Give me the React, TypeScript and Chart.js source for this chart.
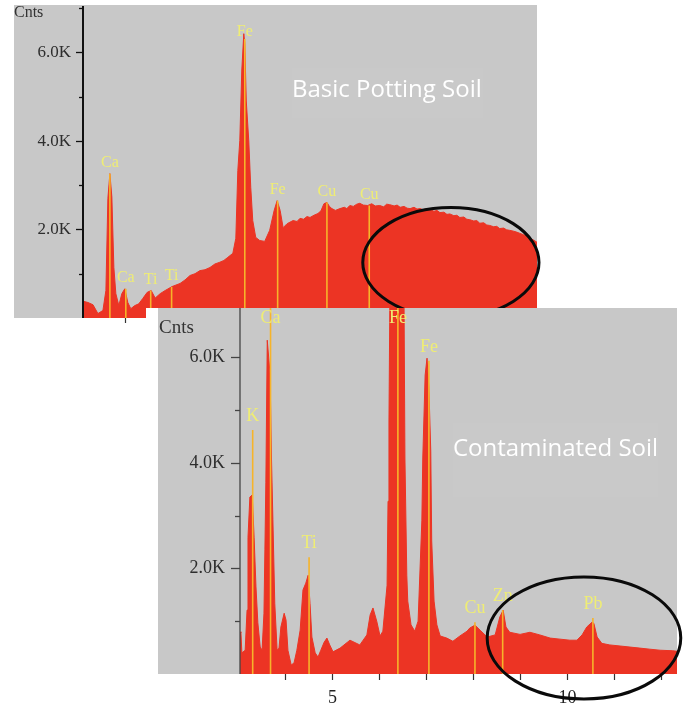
import React, { useEffect, useRef } from 'react';
import { Chart, registerables } from 'chart.js';

Chart.register(...registerables);

// ---------- Basic Potting Soil spectrum (keV, counts) ----------
const topEnergy = [3.15, 3.25, 3.35, 3.45, 3.55, 3.61, 3.65, 3.69, 3.73, 3.77, 3.81, 3.87, 3.93, 3.99, 4.05, 4.11, 4.19, 4.27, 4.35, 4.44, 4.52, 4.60, 4.70, 4.80, 4.94, 5.10, 5.20, 5.30, 5.40, 5.50, 5.60, 5.70, 5.80, 5.90, 5.98, 6.06, 6.16, 6.22, 6.26, 6.30, 6.34, 6.38, 6.40, 6.43, 6.48, 6.52, 6.56, 6.62, 6.70, 6.80, 6.90, 6.99, 7.05, 7.11, 7.17, 7.25, 7.37, 7.45, 7.51, 7.58, 7.65, 7.71, 7.79, 7.87, 7.93, 7.99, 8.05, 8.10, 8.15, 8.22, 8.31, 8.40, 8.45, 8.51, 8.58, 8.65, 8.71, 8.78, 8.87, 8.95, 9.02, 9.11, 9.19, 9.25, 9.31, 9.40, 9.46, 9.52, 9.60, 9.66, 9.72, 9.80, 9.86, 9.92, 10.00, 10.06, 10.12, 10.20, 10.26, 10.32, 10.40, 10.46, 10.52, 10.60, 10.66, 10.72, 10.80, 10.86, 10.92, 11.00, 11.06, 11.12, 11.20, 11.26, 11.32, 11.40, 11.46, 11.52, 11.60, 11.66, 11.72, 11.80, 11.86, 11.93, 12.00, 12.06, 12.13, 12.20, 12.27];
const topCounts = [380, 350, 300, 100, 170, 620, 2700, 3260, 2730, 1140, 550, 280, 550, 660, 350, 210, 280, 320, 440, 580, 620, 450, 550, 620, 710, 780, 860, 960, 1000, 1070, 1090, 1140, 1220, 1260, 1300, 1370, 1460, 1800, 3330, 4010, 5600, 6420, 6200, 4900, 4000, 2950, 2200, 1820, 1750, 1730, 1980, 2430, 2650, 2430, 2040, 2130, 2200, 2180, 2250, 2230, 2290, 2270, 2320, 2360, 2420, 2580, 2610, 2520, 2470, 2430, 2470, 2500, 2470, 2540, 2520, 2570, 2590, 2550, 2540, 2580, 2530, 2540, 2510, 2570, 2560, 2530, 2550, 2500, 2520, 2480, 2470, 2500, 2460, 2470, 2440, 2470, 2450, 2410, 2430, 2380, 2390, 2340, 2350, 2310, 2320, 2270, 2280, 2230, 2220, 2190, 2200, 2140, 2150, 2100, 2090, 2060, 2070, 2020, 2030, 1990, 1980, 1960, 1940, 1910, 1880, 1850, 1800, 1760, 1710];
const topLineEnergy = [3.69, 4.01, 4.51, 4.93, 6.40, 7.06, 8.05, 8.90];
const topLineHeight = [3260, 660, 620, 700, 6300, 2650, 2610, 2540];
const topLineLabel = ['Ca', 'Ca', 'Ti', 'Ti', 'Fe', 'Fe', 'Cu', 'Cu'];
const topYTicks = [1000, 2000, 3000, 4000, 5000, 6000, 7000];
const topXTicks = [4, 5, 6, 7, 8, 9, 10, 11, 12];

// ---------- Contaminated Soil spectrum (keV, counts) ----------
const bottomEnergy = [3.04, 3.06, 3.08, 3.15, 3.19, 3.21, 3.25, 3.30, 3.34, 3.38, 3.42, 3.47, 3.51, 3.55, 3.57, 3.59, 3.62, 3.68, 3.71, 3.74, 3.78, 3.83, 3.87, 3.91, 3.98, 4.02, 4.06, 4.13, 4.19, 4.25, 4.32, 4.38, 4.44, 4.49, 4.53, 4.57, 4.64, 4.70, 4.76, 4.83, 4.89, 4.95, 5.02, 5.17, 5.38, 5.59, 5.74, 5.81, 5.87, 5.95, 6.02, 6.08, 6.17, 6.19, 6.21, 6.23, 6.30, 6.40, 6.49, 6.53, 6.55, 6.59, 6.61, 6.68, 6.76, 6.83, 6.91, 6.93, 6.98, 7.02, 7.06, 7.10, 7.12, 7.17, 7.23, 7.30, 7.44, 7.57, 7.72, 7.87, 7.93, 8.04, 8.15, 8.30, 8.47, 8.57, 8.64, 8.70, 8.78, 9.00, 9.21, 9.42, 9.64, 9.85, 10.06, 10.21, 10.32, 10.42, 10.53, 10.57, 10.64, 10.74, 10.91, 11.13, 11.34, 11.55, 11.76, 11.98, 12.25, 12.34];
const bottomCounts = [800, 780, 400, 450, 1210, 2590, 3350, 3390, 2590, 1650, 970, 510, 450, 1150, 2350, 3620, 6320, 5680, 4090, 2920, 1340, 450, 490, 890, 1150, 1020, 450, 170, 210, 450, 830, 1590, 1720, 1870, 1340, 700, 400, 320, 450, 600, 680, 550, 420, 490, 640, 550, 740, 1120, 1250, 1000, 720, 810, 1680, 3270, 4790, 7200, 10000, 12000, 10000, 7200, 4090, 1870, 1380, 930, 810, 1000, 2900, 4090, 5660, 5980, 5410, 4220, 2520, 1380, 930, 720, 680, 620, 720, 810, 870, 925, 830, 700, 740, 1080, 1210, 890, 790, 750, 790, 740, 680, 660, 640, 640, 740, 890, 980, 960, 700, 580, 550, 530, 510, 490, 470, 450, 440, 430];
const bottomLineEnergy = [3.31, 3.69, 4.51, 6.40, 7.06, 8.04, 8.63, 10.55];
const bottomLineHeight = [4620, 6930, 2210, 6930, 5930, 980, 1210, 1060];
const bottomLineLabel = ['K', 'Ca', 'Ti', 'Fe', 'Fe', 'Cu', 'Zn', 'Pb'];
const bottomYTicks = [1000, 2000, 3000, 4000, 5000, 6000];
const bottomXTicks = [4, 5, 6, 7, 8, 9, 10, 11, 12];
const bottomXLabels = [5, 10];

const RED = '#ec3424';
const GRAY = '#c8c8c8';
const MARKER = '#f6b42a';
const LABEL = '#efed74';
const SERIF = '"Liberation Serif", "DejaVu Serif", serif';

type Cfg = {
  energy: number[];
  counts: number[];
  lineE: number[];
  lineH: number[];
  lineLabel: string[];
  yTicks: number[];
  xTicks: number[];
  xLabels: number[];
  xMin: number;
  xMax: number;
  yMax: number;
  padLeft: number;
  padBottom: number;
  padTop: number;
  padRight: number;
  axisTop: number;
  grayLeft: number;
  grayTop: number;
  tickFont: number;
  labelFont: number;
  labelGap: number;
  labelMinTop: number;
  majorLen: number;
  minorLen: number;
  axisColor: string;
  axisWidth: number;
  yLabelPad: number;
  xTickLen: number;
  xLabelOffset: number;
  cntsX: number;
  cntsY: number;
  cntsFont: number;
  ellipse: { cx: number; cy: number; rx: number; ry: number };
};

function makeChart(canvas: HTMLCanvasElement, c: Cfg) {
  const plugin = {
    id: 'edsDecor',
    beforeDraw(chart: any) {
      const { ctx, chartArea: a } = chart;
      ctx.save();
      ctx.fillStyle = '#ffffff';
      ctx.fillRect(0, 0, chart.width, chart.height);
      ctx.fillStyle = GRAY;
      ctx.fillRect(c.grayLeft, c.grayTop, a.right - c.grayLeft, a.bottom - c.grayTop);
      ctx.restore();
    },
    afterDatasetsDraw(chart: any) {
      const { ctx, chartArea: a, scales } = chart;
      const x = scales.x;
      const y = scales.y;
      ctx.save();
      ctx.beginPath();
      ctx.rect(a.left, a.top, a.right - a.left, a.bottom - a.top);
      ctx.clip();
      ctx.strokeStyle = MARKER;
      ctx.lineWidth = 1.6;
      c.lineE.forEach((e, i) => {
        const px = x.getPixelForValue(e);
        const top = Math.max(y.getPixelForValue(c.lineH[i]), a.top);
        ctx.beginPath();
        ctx.moveTo(px, a.bottom);
        ctx.lineTo(px, top);
        ctx.stroke();
      });
      ctx.restore();
      ctx.save();
      ctx.fillStyle = LABEL;
      ctx.font = `${c.labelFont}px ${SERIF}`;
      ctx.textAlign = 'center';
      ctx.textBaseline = 'middle';
      c.lineE.forEach((e, i) => {
        const px = x.getPixelForValue(e);
        const top = Math.max(y.getPixelForValue(c.lineH[i]), a.top);
        const cy = Math.max(top - c.labelGap, a.top + c.labelMinTop);
        ctx.fillText(c.lineLabel[i], px, cy);
      });
      ctx.restore();
    },
    afterDraw(chart: any) {
      const { ctx, chartArea: a, scales } = chart;
      const x = scales.x;
      const y = scales.y;
      ctx.save();
      // y axis line
      ctx.strokeStyle = c.axisColor;
      ctx.lineWidth = c.axisWidth;
      ctx.beginPath();
      ctx.moveTo(a.left, c.axisTop);
      ctx.lineTo(a.left, a.bottom);
      ctx.stroke();
      // y tick marks and labels
      ctx.lineWidth = 1.3;
      ctx.fillStyle = '#2e2e2e';
      ctx.font = `${c.tickFont}px ${SERIF}`;
      ctx.textAlign = 'right';
      ctx.textBaseline = 'middle';
      c.yTicks.forEach((v) => {
        if (v > c.yMax) return;
        const py = Math.round(y.getPixelForValue(v)) + 0.5;
        const major = v % 2000 === 0;
        const len = major ? c.majorLen : c.minorLen;
        ctx.beginPath();
        ctx.moveTo(a.left - len, py);
        ctx.lineTo(a.left, py);
        ctx.stroke();
        if (major) ctx.fillText((v / 1000).toFixed(1) + 'K', a.left - c.yLabelPad, py);
      });
      // x tick marks and labels
      ctx.strokeStyle = '#333333';
      ctx.lineWidth = 1.2;
      ctx.textAlign = 'center';
      ctx.fillStyle = '#222222';
      c.xTicks.forEach((v) => {
        const px = Math.round(x.getPixelForValue(v)) + 0.5;
        ctx.beginPath();
        ctx.moveTo(px, a.bottom);
        ctx.lineTo(px, a.bottom + c.xTickLen);
        ctx.stroke();
        if (c.xLabels.includes(v)) ctx.fillText(String(v), px, a.bottom + c.xLabelOffset);
      });
      // Cnts
      ctx.fillStyle = '#333333';
      ctx.font = `${c.cntsFont}px ${SERIF}`;
      ctx.textAlign = 'left';
      ctx.fillText('Cnts', c.cntsX, c.cntsY);
      // ellipse annotation (data units)
      const ex = x.getPixelForValue(c.ellipse.cx);
      const ey = y.getPixelForValue(c.ellipse.cy);
      const erx = Math.abs(x.getPixelForValue(c.ellipse.cx + c.ellipse.rx) - ex);
      const ery = Math.abs(y.getPixelForValue(c.ellipse.cy + c.ellipse.ry) - ey);
      ctx.strokeStyle = '#0a0a0a';
      ctx.lineWidth = 3;
      ctx.beginPath();
      ctx.ellipse(ex, ey, erx, ery, 0, 0, Math.PI * 2);
      ctx.stroke();
      ctx.restore();
    },
  };

  return new Chart(canvas, {
    type: 'line',
    data: {
      datasets: [
        {
          data: c.energy.map((e, i) => ({ x: e, y: c.counts[i] })),
          borderColor: RED,
          backgroundColor: RED,
          borderWidth: 1,
          pointRadius: 0,
          fill: 'origin',
          tension: 0,
        },
      ],
    },
    options: {
      animation: false,
      responsive: false,
      events: [],
      layout: { padding: { top: c.padTop, right: c.padRight, left: c.padLeft, bottom: c.padBottom } },
      plugins: { legend: { display: false }, tooltip: { enabled: false }, title: { display: false } },
      scales: {
        x: { type: 'linear', display: false, min: c.xMin, max: c.xMax },
        y: { type: 'linear', display: false, min: 0, max: c.yMax },
      },
    },
    plugins: [plugin],
  } as any);
}

const topCfg: Cfg = {
  energy: topEnergy,
  counts: topCounts,
  lineE: topLineEnergy,
  lineH: topLineHeight,
  lineLabel: topLineLabel,
  yTicks: topYTicks,
  xTicks: topXTicks,
  xLabels: [],
  xMin: 3.15,
  xMax: 12.27,
  yMax: 7000,
  padLeft: 83,
  padBottom: 12,
  padTop: 8,
  padRight: 8,
  axisTop: 6,
  grayLeft: 14,
  grayTop: 5,
  tickFont: 17,
  labelFont: 16,
  labelGap: 11,
  labelMinTop: 24,
  majorLen: 7,
  minorLen: 4,
  axisColor: '#111111',
  axisWidth: 2,
  yLabelPad: 12,
  xTickLen: 5,
  xLabelOffset: 20,
  cntsX: 14,
  cntsY: 13,
  cntsFont: 16,
  ellipse: { cx: 10.54, cy: 1253, rx: 1.77, ry: 1242 },
};

const bottomCfg: Cfg = {
  energy: bottomEnergy,
  counts: bottomCounts,
  lineE: bottomLineEnergy,
  lineH: bottomLineHeight,
  lineLabel: bottomLineLabel,
  yTicks: bottomYTicks,
  xTicks: bottomXTicks,
  xLabels: bottomXLabels,
  xMin: 3.04,
  xMax: 12.34,
  yMax: 6930,
  padLeft: 94,
  padBottom: 32,
  padTop: 0,
  padRight: 6,
  axisTop: 0,
  grayLeft: 12,
  grayTop: 0,
  tickFont: 18,
  labelFont: 18,
  labelGap: 14,
  labelMinTop: 10,
  majorLen: 9,
  minorLen: 5,
  axisColor: '#444444',
  axisWidth: 1.3,
  yLabelPad: 15,
  xTickLen: 6,
  xLabelOffset: 24,
  cntsX: 13,
  cntsY: 20,
  cntsFont: 19,
  ellipse: { cx: 10.36, cy: 682, rx: 2.06, ry: 1155 },
};

function SpectrumCanvas(props: { cfg: Cfg; left: number; top: number; width: number; height: number; z: number }) {
  const ref = useRef<HTMLCanvasElement | null>(null);
  useEffect(() => {
    if (!ref.current) return;
    const chart = makeChart(ref.current, props.cfg);
    return () => chart.destroy();
  }, []);
  return (
    <canvas
      ref={ref}
      width={props.width}
      height={props.height}
      style={{
        position: 'absolute',
        left: props.left,
        top: props.top,
        width: props.width,
        height: props.height,
        zIndex: props.z,
        display: 'block',
      }}
    />
  );
}

const titleStyle: React.CSSProperties = {
  position: 'absolute',
  fontFamily: '"Open Sans", "Noto Sans", sans-serif',
  fontSize: 24,
  lineHeight: '24px',
  color: '#ffffff',
  whiteSpace: 'nowrap',
  zIndex: 5,
};

export default function App() {
  return (
    <div
      style={{
        position: 'fixed',
        left: 0,
        top: 0,
        width: 683,
        height: 706,
        background: '#ffffff',
        overflow: 'hidden',
      }}
    >
      <SpectrumCanvas cfg={topCfg} left={0} top={0} width={545} height={330} z={1} />
      <SpectrumCanvas cfg={bottomCfg} left={146} top={308} width={537} height={398} z={2} />
      <div style={{ position: 'absolute', left: 292, top: 68, width: 191, height: 50, background: 'rgba(255,255,255,0.035)', zIndex: 4 }} />
      <div style={{ position: 'absolute', left: 453, top: 423, width: 205, height: 74, background: 'rgba(255,255,255,0.035)', zIndex: 4 }} />
      <div style={{ ...titleStyle, left: 292, top: 76 }}>Basic Potting Soil</div>
      <div style={{ ...titleStyle, left: 453, top: 435 }}>Contaminated Soil</div>
    </div>
  );
}
